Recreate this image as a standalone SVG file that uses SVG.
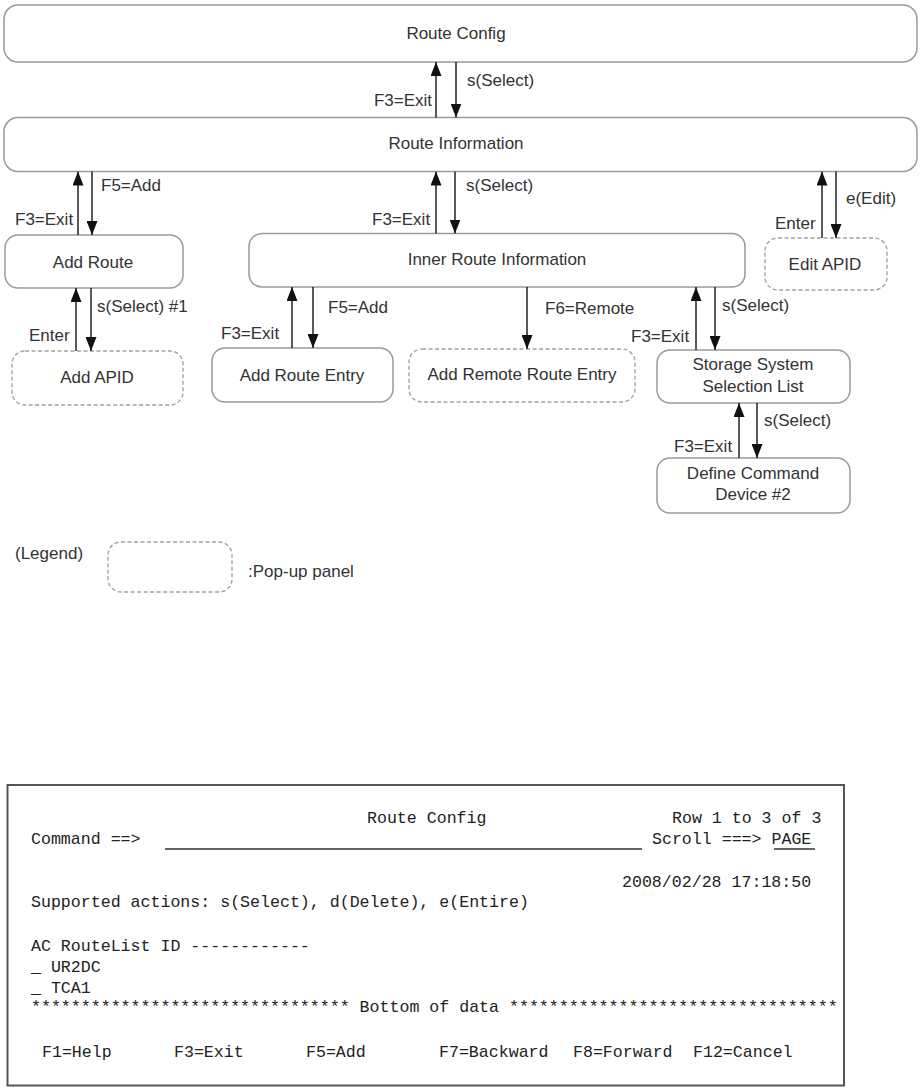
<svg xmlns="http://www.w3.org/2000/svg" width="924" height="1091" viewBox="0 0 924 1091">
<style>
.box{fill:#fff;stroke:#9a9a9a;stroke-width:1.5}
.pop{fill:#fff;stroke:#a3a3a3;stroke-width:1.4;stroke-dasharray:4 2.5}
.lbl{font-family:"Liberation Sans",Arial,sans-serif;font-size:17px;fill:#333}
.c{text-anchor:middle}
.r{text-anchor:end}
.edge{stroke:#222;stroke-width:1.5;fill:none;marker-end:url(#ah)}
.mono{font-family:"Liberation Mono","Courier New",monospace;font-size:16.6px;fill:#222}
.ul{stroke:#333;stroke-width:1.5}
</style>
<defs>
<marker id="ah" viewBox="0 0 14 11" refX="14" refY="5.5" markerWidth="14" markerHeight="11" markerUnits="userSpaceOnUse" orient="auto">
<path d="M0,0 L14,5.5 L0,11 z" fill="#111"/>
</marker>
</defs>
<rect width="924" height="1091" fill="#fff"/>

<g id="route-config"><rect class="box" x="4" y="5" width="913" height="57" rx="14"/><text class="lbl c" x="456" y="39">Route Config</text></g>
<g id="route-information"><rect class="box" x="4" y="117.5" width="913" height="54" rx="14"/><text class="lbl c" x="456" y="149">Route Information</text></g>
<g id="add-route"><rect class="box" x="5" y="235" width="178" height="53" rx="13"/><text class="lbl c" x="93" y="268">Add Route</text></g>
<g id="inner-route-information"><rect class="box" x="249" y="233.5" width="496" height="53.5" rx="13"/><text class="lbl c" x="497" y="265">Inner Route Information</text></g>
<g id="edit-apid"><rect class="pop" x="765" y="238" width="122" height="52" rx="13"/><text class="lbl c" x="825" y="270">Edit APID</text></g>
<g id="add-apid"><rect class="pop" x="12" y="351" width="171" height="54" rx="13"/><text class="lbl c" x="97" y="383">Add APID</text></g>
<g id="add-route-entry"><rect class="box" x="212" y="348" width="181" height="54" rx="13"/><text class="lbl c" x="302" y="381">Add Route Entry</text></g>
<g id="add-remote-route-entry"><rect class="pop" x="409" y="349" width="226" height="53" rx="13"/><text class="lbl c" x="522" y="380">Add Remote Route Entry</text></g>
<g id="storage-system-selection-list"><rect class="box" x="657" y="350" width="193" height="53" rx="13"/><text class="lbl c" x="753" y="370">Storage System</text><text class="lbl c" x="753" y="392">Selection List</text></g>
<g id="define-command-device"><rect class="box" x="657" y="458" width="193" height="55" rx="13"/><text class="lbl c" x="753" y="479">Define Command</text><text class="lbl c" x="753" y="500">Device #2</text></g>

<g id="connectors">
<line class="edge" x1="436" y1="117.5" x2="436" y2="62"/>
<line class="edge" x1="456" y1="62" x2="456" y2="117.5"/>
<line class="edge" x1="78" y1="235" x2="78" y2="171.5"/>
<line class="edge" x1="92" y1="171.5" x2="92" y2="235"/>
<line class="edge" x1="436" y1="233.5" x2="436" y2="171.5"/>
<line class="edge" x1="455" y1="171.5" x2="455" y2="233.5"/>
<line class="edge" x1="822" y1="238" x2="822" y2="171.5"/>
<line class="edge" x1="836" y1="171.5" x2="836" y2="238"/>
<line class="edge" x1="76" y1="351" x2="76" y2="288"/>
<line class="edge" x1="91" y1="288" x2="91" y2="351"/>
<line class="edge" x1="292" y1="348" x2="292" y2="287"/>
<line class="edge" x1="313" y1="287" x2="313" y2="348"/>
<line class="edge" x1="527" y1="287" x2="527" y2="349"/>
<line class="edge" x1="696" y1="350" x2="696" y2="287"/>
<line class="edge" x1="715" y1="287" x2="715" y2="350"/>
<line class="edge" x1="739" y1="458" x2="739" y2="403"/>
<line class="edge" x1="757" y1="403" x2="757" y2="458"/>
<text class="lbl r" x="432" y="106">F3=Exit</text>
<text class="lbl" x="467" y="86">s(Select)</text>
<text class="lbl" x="101" y="191">F5=Add</text>
<text class="lbl" x="15" y="225">F3=Exit</text>
<text class="lbl" x="466" y="191">s(Select)</text>
<text class="lbl" x="372" y="225">F3=Exit</text>
<text class="lbl" x="846" y="204">e(Edit)</text>
<text class="lbl" x="775" y="229">Enter</text>
<text class="lbl" x="97" y="312">s(Select) #1</text>
<text class="lbl" x="29" y="341">Enter</text>
<text class="lbl" x="328" y="313">F5=Add</text>
<text class="lbl" x="221" y="339">F3=Exit</text>
<text class="lbl" x="545" y="314">F6=Remote</text>
<text class="lbl" x="722" y="311">s(Select)</text>
<text class="lbl" x="631" y="342">F3=Exit</text>
<text class="lbl" x="764" y="426">s(Select)</text>
<text class="lbl" x="674" y="452">F3=Exit</text>
</g>

<g id="legend">
<text class="lbl" x="15" y="559">(Legend)</text>
<rect class="pop" x="108" y="542" width="124" height="50" rx="13"/>
<text class="lbl" x="248" y="577">:Pop-up panel</text>
</g>

<g id="screen">
<rect x="7.5" y="785" width="836.5" height="300.5" fill="none" stroke="#555" stroke-width="2"/>
<text class="mono" x="367" y="823">Route Config</text>
<text class="mono" x="672" y="823">Row 1 to 3 of 3</text>
<text class="mono" x="31" y="844">Command ==&gt;</text>
<line class="ul" x1="165" y1="849" x2="642" y2="849"/>
<text class="mono" x="652" y="844">Scroll ===&gt; PAGE</text>
<line class="ul" x1="774" y1="849" x2="815" y2="849"/>
<text class="mono" x="622" y="887">2008/02/28 17:18:50</text>
<text class="mono" x="31" y="907">Supported actions: s(Select), d(Delete), e(Entire)</text>
<text class="mono" x="31" y="951">AC RouteList ID ------------</text>
<text class="mono" x="31" y="972">_  UR2DC</text>
<text class="mono" x="31" y="993">_  TCA1</text>
<text class="mono" x="31" y="1012">******************************** Bottom of data *********************************</text>
<text class="mono" x="42" y="1057">F1=Help</text>
<text class="mono" x="174" y="1057">F3=Exit</text>
<text class="mono" x="306" y="1057">F5=Add</text>
<text class="mono" x="439" y="1057">F7=Backward</text>
<text class="mono" x="573" y="1057">F8=Forward</text>
<text class="mono" x="693" y="1057">F12=Cancel</text>
</g>
</svg>
